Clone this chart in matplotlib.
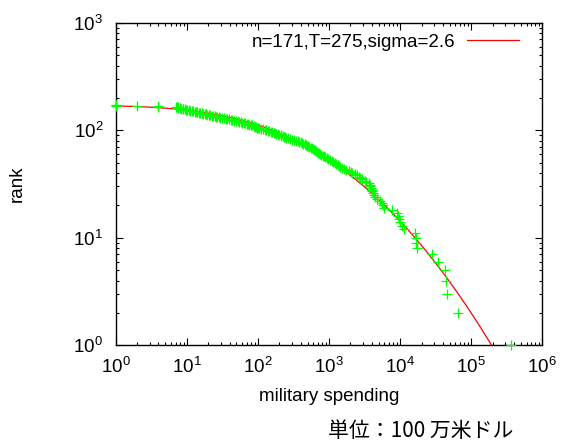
import numpy as np
import matplotlib
matplotlib.use("Agg")
import matplotlib.pyplot as plt
from matplotlib.ticker import LogLocator, NullFormatter
from math import erfc, log, sqrt

plt.rcParams['font.family'] = ['Liberation Sans', 'DejaVu Sans']
plt.rcParams['mathtext.fontset'] = 'custom'
plt.rcParams['mathtext.rm'] = 'Liberation Sans'
plt.rcParams['mathtext.it'] = 'Liberation Sans:italic'
plt.rcParams['mathtext.bf'] = 'Liberation Sans:bold'

# ---- data: log10 of military spending, ranks 1..171 ----
ranks = list(range(1, 172))
log_spending = [
    5.56, 4.81, 4.66, 4.65, 4.63, 4.53, 4.45, 4.24, 4.23, 4.22,
    4.21, 4.06, 4.02, 4.00, 3.98, 3.97, 3.95, 3.88, 3.78, 3.76,
    3.74, 3.72, 3.67, 3.64, 3.63, 3.62, 3.61, 3.60, 3.59, 3.58,
    3.57, 3.56, 3.52, 3.50, 3.47, 3.44, 3.42, 3.40, 3.36, 3.33,
    3.31, 3.28, 3.24, 3.21, 3.18, 3.16, 3.14, 3.12, 3.10, 3.08,
    3.06, 3.04, 3.01, 2.99, 2.97, 2.95, 2.93, 2.91, 2.89, 2.87,
    2.86, 2.85, 2.83, 2.82, 2.80, 2.79, 2.77, 2.76, 2.74, 2.72,
    2.71, 2.69, 2.68, 2.66, 2.64, 2.62, 2.60, 2.58, 2.56, 2.54,
    2.51, 2.48, 2.45, 2.42, 2.40, 2.38, 2.37, 2.35, 2.33, 2.32,
    2.30, 2.28, 2.26, 2.24, 2.22, 2.20, 2.18, 2.16, 2.14, 2.12,
    2.10, 2.07, 2.05, 2.02, 2.00, 1.99, 1.98, 1.96, 1.95, 1.94,
    1.92, 1.90, 1.88, 1.86, 1.84, 1.82, 1.80, 1.78, 1.76, 1.74,
    1.72, 1.69, 1.67, 1.64, 1.62, 1.60, 1.57, 1.55, 1.52, 1.49,
    1.47, 1.45, 1.43, 1.41, 1.39, 1.37, 1.35, 1.33, 1.31, 1.29,
    1.27, 1.25, 1.23, 1.21, 1.19, 1.17, 1.15, 1.13, 1.11, 1.09,
    1.07, 1.05, 1.03, 1.01, 0.99, 0.97, 0.95, 0.94, 0.92, 0.91,
    0.90, 0.88, 0.87, 0.86, 0.85, 0.60, 0.60, 0.30, 0.00, 0.00,
    0.00,
]
spending = [10 ** v for v in log_spending]

# ---- fitted log-normal rank curve (parameters from the legend) ----
n_fit = 171
T_fit = 275
sigma_fit = 2.6
fit_label = "n=171,T=275,sigma=2.6"

x_fit = np.logspace(0, 6, 600)
y_fit = np.array([n_fit * 0.5 * erfc((log(x) - log(T_fit)) / (sigma_fit * sqrt(2))) for x in x_fit])

fig = plt.figure(figsize=(5.61, 4.41), dpi=100)
ax = fig.add_axes([0.2062, 0.217, 0.7605, 0.7315])

ax.plot(spending, ranks, linestyle='none', marker='+', color='#00ff00',
        markersize=6.5, markeredgewidth=0.9, zorder=3, clip_on=False)
ax.plot(x_fit, y_fit, color='#ff0000', linewidth=0.9, label=fit_label, zorder=2)

ax.set_xscale('log')
ax.set_yscale('log')
ax.set_xlim(1, 1e6)
ax.set_ylim(1, 1e3)

ax.xaxis.set_major_locator(LogLocator(base=10, numticks=10))
ax.yaxis.set_major_locator(LogLocator(base=10, numticks=10))
ax.xaxis.set_minor_locator(LogLocator(base=10, subs=np.arange(2, 10), numticks=20))
ax.yaxis.set_minor_locator(LogLocator(base=10, subs=np.arange(2, 10), numticks=20))
ax.xaxis.set_minor_formatter(NullFormatter())
ax.yaxis.set_minor_formatter(NullFormatter())

ax.tick_params(which='both', direction='in', top=True, right=True, labelsize=13.5, width=0.8)
ax.tick_params(which='major', length=5)
ax.tick_params(axis='x', which='major', pad=8)
ax.tick_params(axis='y', which='major', pad=9)
ax.tick_params(which='minor', length=2.5)
for s in ax.spines.values():
    s.set_linewidth(1.0)

ax.set_xlabel('military spending', fontsize=13.5, labelpad=8)
ax.set_ylabel('rank', fontsize=13.5, labelpad=34)

leg = ax.legend(loc='upper right', bbox_to_anchor=(0.946, 0.966), frameon=False,
                markerfirst=False, handlelength=2.77, fontsize=13.5, borderpad=0,
                borderaxespad=0, handletextpad=0.64)

fig.text(0.75, 0.022, '単位：100 万米ドル', fontsize=15, ha='center', va='center',
         family=['Noto Sans CJK JP', 'DejaVu Sans'])

fig.savefig('out.png', dpi=100)
